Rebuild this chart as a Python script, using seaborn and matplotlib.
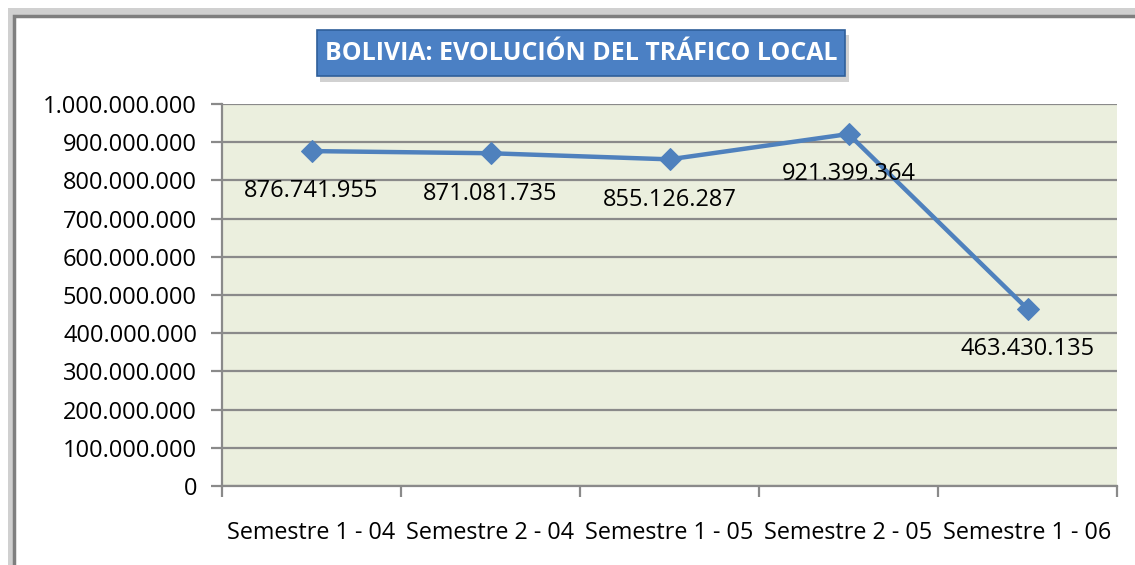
import matplotlib.pyplot as plt
import matplotlib.patches as mpatches
import pandas as pd
import seaborn as sns

# data
semestres = ['Semestre 1 - 04', 'Semestre 2 - 04', 'Semestre 1 - 05',
             'Semestre 2 - 05', 'Semestre 1 - 06']
trafico = [876741955, 871081735, 855126287, 921399364, 463430135]

df = pd.DataFrame({'semestre': semestres, 'trafico': trafico})


def fmt(v):
    return f'{v:,.0f}'.replace(',', '.')


sns.set_style('white')
plt.rcParams['font.family'] = ['Open Sans', 'DejaVu Sans']

W, H = 1135, 565
fig = plt.figure(figsize=(W / 100, H / 100), dpi=100)


def px_rect(x0, y0, x1, y1, **kw):
    # rectangle given in pixel coords measured from the top-left corner
    return mpatches.Rectangle((x0 / W, 1 - y1 / H), (x1 - x0) / W, (y1 - y0) / H,
                              transform=fig.transFigure, **kw)


# chart frame with shadow
fig.patches.append(px_rect(8, 8, W + 20, H + 20, facecolor='#d0d0d0', edgecolor='none', zorder=-3))
fig.patches.append(px_rect(14, 16, W + 20, H + 20, facecolor='white',
                           edgecolor='#7f7f7f', linewidth=2.5, zorder=-2))

ax = fig.add_axes([222 / W, 79 / H, 895 / W, 382 / H])
ax.set_facecolor('#ebefde')

sns.lineplot(data=df, x='semestre', y='trafico', ax=ax, color='#4f81bd',
             linewidth=3.2, marker='D', markersize=11, markeredgecolor='#4f81bd',
             zorder=5)

for i, v in enumerate(trafico):
    ax.annotate(fmt(v), (i, v), xytext=(0, -29), textcoords='offset points',
                ha='center', va='center', fontsize=17, color='black', zorder=6)

ax.set_ylim(0, 1_000_000_000)
ax.set_yticks(range(0, 1_000_000_001, 100_000_000))
ax.set_yticklabels([fmt(t) for t in range(0, 1_000_000_001, 100_000_000)],
                   fontsize=17, color='black')
ax.yaxis.grid(True, color='#8a8a8a', linewidth=1.6)
ax.set_axisbelow(True)

ax.set_xlim(-0.5, len(semestres) - 0.5)
ax.set_xticks([i - 0.5 for i in range(len(semestres) + 1)])
ax.set_xticklabels([])
ax.set_xticks(range(len(semestres)), minor=True)
ax.set_xticklabels(semestres, minor=True, fontsize=16.8, color='black')
ax.tick_params(axis='x', which='minor', length=0, pad=25)
ax.tick_params(axis='x', which='major', length=8, width=1.6, color='#8a8a8a', direction='out')
ax.tick_params(axis='y', length=8, width=1.6, color='#8a8a8a', direction='out', pad=10)
ax.xaxis.set_ticks_position('bottom')
ax.yaxis.set_ticks_position('left')

for side in ['top', 'right']:
    ax.spines[side].set_visible(False)
for side in ['left', 'bottom']:
    ax.spines[side].set_color('#8a8a8a')
    ax.spines[side].set_linewidth(1.6)

ax.set_xlabel('')
ax.set_ylabel('')

# title box with shadow
fig.patches.append(px_rect(320, 35, 849, 82, facecolor='#9a9a9a', alpha=0.45,
                           edgecolor='none', zorder=2))
fig.patches.append(px_rect(317, 30, 845, 76, facecolor='#4b80c4',
                           edgecolor='#2f5f9a', linewidth=1.2, zorder=3))
fig.text(581 / W, 1 - 53 / H, 'BOLIVIA: EVOLUCIÓN DEL TRÁFICO LOCAL',
         ha='center', va='center', fontsize=17.9, fontweight='bold', color='white',
         zorder=4)

fig.savefig('out.png', dpi=100)
